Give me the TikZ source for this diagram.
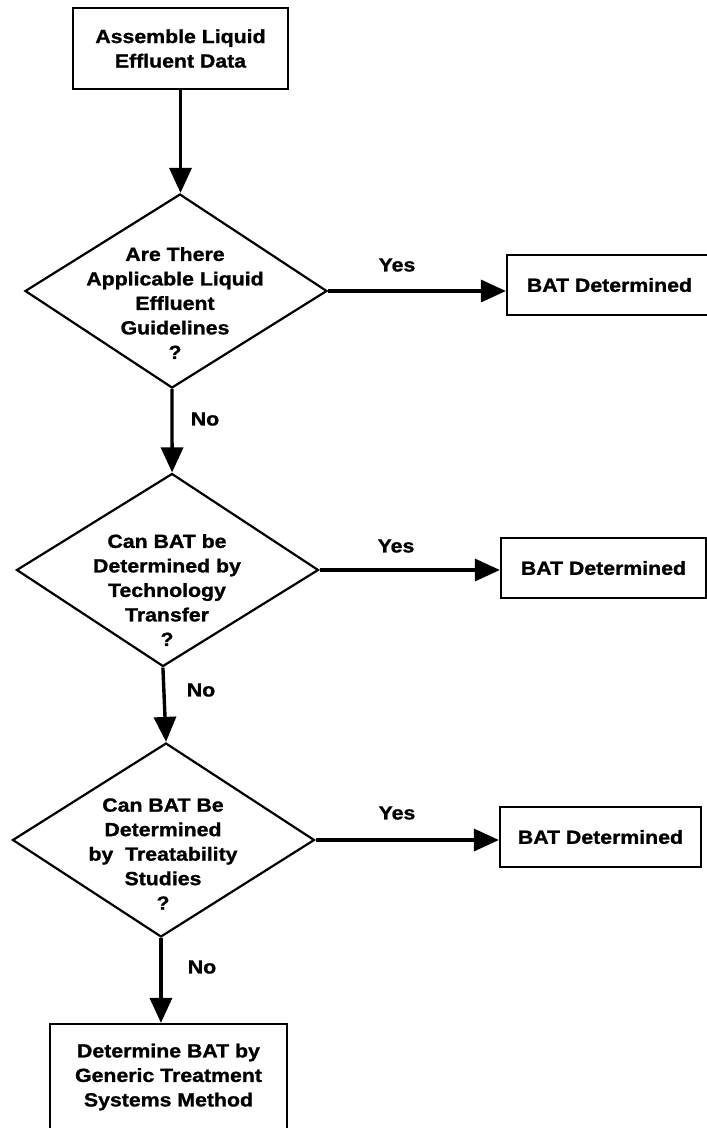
\documentclass[tikz,border=0pt]{standalone}
\usepackage{fontspec}
\setmainfont[FakeStretch=1.12, BoldFeatures={FakeBold=1.2}]{Liberation Sans}
\usetikzlibrary{shapes.geometric,arrows.meta}
\tikzset{
  box/.style={draw, line width=2.2pt, inner sep=0pt},
  dia/.style={draw, diamond, line width=2.2pt, inner sep=0pt, minimum width=302pt, minimum height=194pt},
  txt/.style={align=center, font=\bfseries\fontsize{19}{24.5}\selectfont},
  lbl/.style={font=\bfseries\fontsize{19}{24.5}\selectfont, inner sep=0pt},
  arr/.style={line width=3.4pt, -{Triangle[length=25pt,width=22pt]}}
}
\begin{document}
\begin{tikzpicture}[x=1pt,y=-1pt]
\useasboundingbox (0,0) rectangle (707,1128);
\clip (0,0) rectangle (707,1128);
\fill[white] (0,0) rectangle (707,1128);

% boxes
\node[box, txt, minimum width=215pt, minimum height=81pt] (top) at (180.5,48.5) {Assemble Liquid\\Effluent Data};
\node[box, txt, minimum width=205pt, minimum height=60pt] (b1) at (609.5,285) {BAT Determined};
\node[box, txt, minimum width=205pt, minimum height=60pt] (b2) at (603.5,568) {BAT Determined};
\node[box, txt, minimum width=201pt, minimum height=60pt] (b3) at (600.5,837) {BAT Determined};
\node[box, txt, minimum width=237pt, minimum height=106pt] (bot) at (168.5,1077) {Determine BAT by\\Generic Treatment\\Systems Method};

% diamonds
\node[dia, xslant=0.041] (d1) at (176,291) {};
\node[dia, xslant=0.047, minimum height=193pt] (d2) at (167.5,570) {};
\node[dia, xslant=0.026] (d3) at (163.5,840) {};

% diamond texts
\node[txt] (q1) at (175,303) {Are There\\Applicable Liquid\\Effluent\\Guidelines\\?};
\node[txt] (q2) at (167,590) {Can BAT be\\Determined by\\Technology\\Transfer\\?};
\node[txt] (q3) at (163,854) {Can BAT Be\\Determined\\by~ Treatability\\Studies\\?};

% vertical connectors
\draw[arr] (top.south) -- (top.south |- d1.north);
\draw[arr] (d1.south) -- (d2.north);
\draw[arr] (d2.south) -- (d3.north);
\draw[arr] (d3.south) -- (d3.south |- bot.north);

% horizontal connectors
\draw[arr] (d1.east) -- (d1.east -| b1.west);
\draw[arr] (d2.east) -- (d2.east -| b2.west);
\draw[arr] (d3.east) -- (d3.east -| b3.west);

% labels
\node[lbl] (y1) at (397,265) {Yes};
\node[lbl] (y2) at (396,546) {Yes};
\node[lbl] (y3) at (397,813) {Yes};
\node[lbl] (n1) at (205,419) {No};
\node[lbl] (n2) at (201,690) {No};
\node[lbl] (n3) at (202,967) {No};
\end{tikzpicture}
\end{document}
